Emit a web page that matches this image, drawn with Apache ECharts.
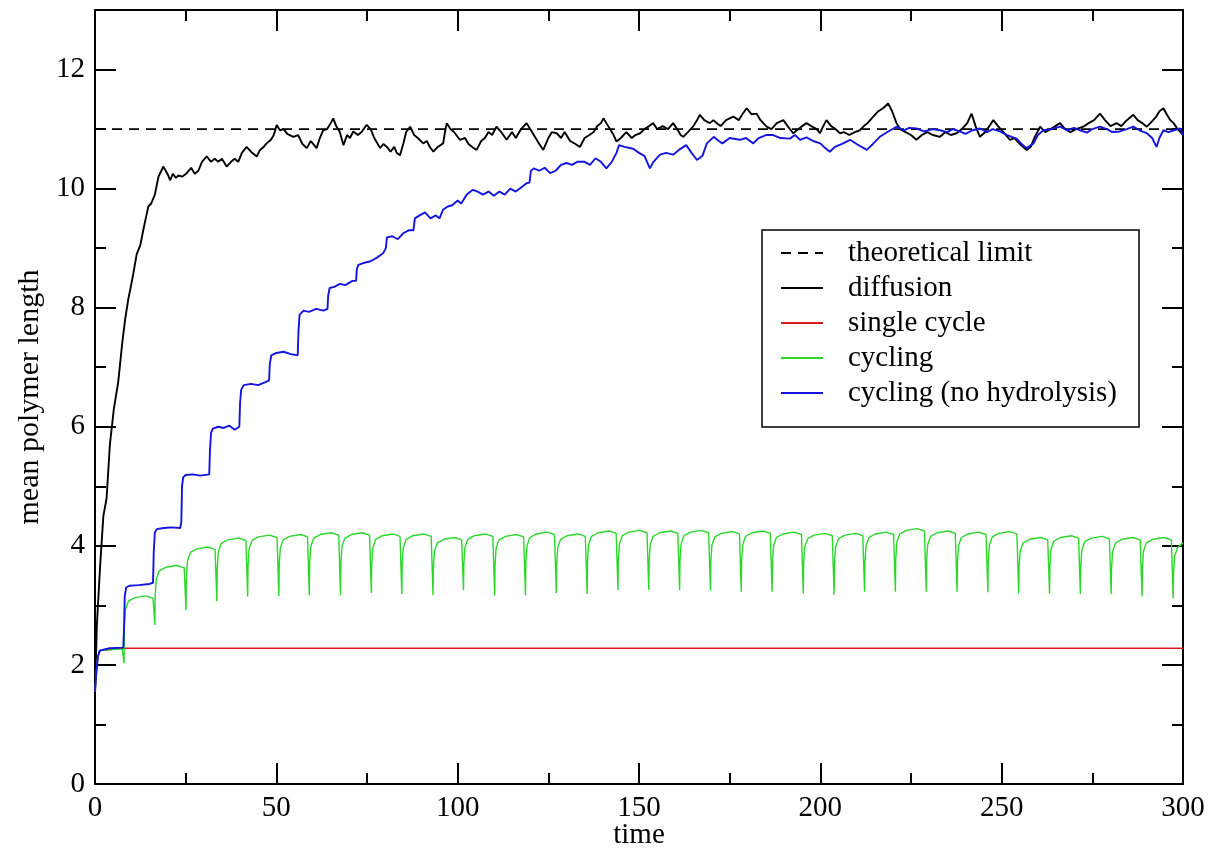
<!DOCTYPE html>
<html>
<head>
<meta charset="utf-8">
<script src="https://cdn.jsdelivr.net/npm/echarts@6/dist/echarts.min.js"></script>
<style>html,body{margin:0;padding:0;background:#fff;}#c{width:1210px;height:852px;}</style>
</head>
<body>
<div id="c"></div>
<script>
// ---- data (time, mean polymer length) ----
const seriesNames = ["theoretical limit", "diffusion", "single cycle", "cycling", "cycling (no hydrolysis)"];
const xTicks = [0, 50, 100, 150, 200, 250, 300];
const yTicks = [0, 2, 4, 6, 8, 10, 12];

const theoretical = [[0, 11.0], [300, 11.0]];

const diffusion = [
[0,1.55],[0.3,2.2],[0.5,2.65],[0.9,3.1],[1.4,3.65],[2.3,4.5],[3.2,4.8],[4.1,5.7],[5.2,6.3],[6.4,6.75],[7.5,7.4],[8.3,7.8],[9.2,8.15],[9.7,8.3],[10.5,8.55],[11.5,8.9],[12.5,9.05],[13.3,9.3],[14.0,9.5],[14.7,9.7],[15.5,9.75],[16.5,9.9],[17.5,10.2],[18.3,10.3],[18.8,10.37],[19.5,10.3],[20.2,10.22],[20.7,10.14],[21.5,10.25],[22.3,10.18],[23,10.22],[24,10.2],[25.3,10.26],[26.5,10.35],[27.5,10.25],[28.5,10.3],[29.5,10.45],[30.8,10.54],[32,10.45],[33,10.5],[34,10.45],[35,10.5],[36.3,10.37],[37.5,10.45],[38.5,10.5],[39.5,10.45],[40.5,10.6],[41.8,10.7],[43,10.62],[44.6,10.54],[45.5,10.65],[46.5,10.7],[47.3,10.76],[48.5,10.82],[49.3,10.9],[50.1,11.07],[51,10.98],[52,11.0],[53,10.92],[54.7,10.87],[56,10.9],[57.2,10.75],[58.4,10.68],[59.5,10.8],[61.1,10.68],[62,10.85],[62.9,10.98],[64,11.0],[65,11.1],[65.7,11.18],[66.5,11.05],[67.5,10.95],[68.5,10.73],[69.5,10.9],[70.3,10.85],[71.2,10.96],[72.5,10.9],[73.5,10.95],[74.9,11.07],[76,11.0],[77,10.85],[78.6,10.68],[79.5,10.75],[80.5,10.7],[81.5,10.62],[82.5,10.7],[83.2,10.6],[84.1,10.56],[85,10.75],[85.8,10.95],[86.9,11.04],[88,10.9],[89,10.85],[90.5,10.76],[91.5,10.8],[92.3,10.7],[93.3,10.62],[94.5,10.7],[96,10.76],[96.5,10.95],[97,11.1],[98,11.0],[99,10.95],[100.6,10.82],[102,10.85],[103,10.75],[104,10.7],[105.2,10.65],[106.5,10.8],[107.5,10.85],[108.5,10.95],[109.5,10.9],[110.7,11.04],[112,10.95],[113.5,10.82],[115,10.95],[116,10.85],[117.5,11.0],[119,11.1],[120.5,10.95],[121.5,10.85],[122.5,10.75],[123.6,10.65],[125,10.85],[126,10.95],[127.3,10.93],[128.5,10.85],[129.5,10.95],[131,10.8],[132.5,10.75],[133.7,10.7],[135,10.85],[136.3,10.9],[137.5,10.95],[138.5,11.05],[139.5,11.1],[140.2,11.18],[141,11.1],[142,11.0],[143,10.9],[143.8,10.79],[145,10.85],[146.5,10.95],[148,10.85],[149,10.9],[150.3,10.93],[151.5,11.0],[152.8,11.05],[153.9,11.1],[155,11.0],[156.5,11.05],[158,11.0],[159.4,11.1],[160.5,11.0],[161.5,10.9],[162.2,10.87],[163.5,10.95],[165,11.05],[166,11.15],[166.8,11.24],[168,11.15],[169.5,11.1],[170.5,11.15],[171.4,11.1],[172.5,11.05],[174,11.15],[176,11.21],[177.5,11.15],[178.5,11.25],[179.7,11.35],[181,11.25],[182.4,11.26],[183.5,11.15],[185.2,11.04],[186.5,11.0],[188,11.1],[189.8,11.15],[191,11.05],[192.5,10.93],[194,11.0],[195,11.05],[196.2,11.1],[197.5,11.05],[199,11.0],[199.9,10.93],[200.8,11.05],[201.7,11.15],[203,11.05],[204.2,11.0],[205.4,10.93],[206.5,10.95],[208,10.9],[209.5,10.95],[210.9,10.98],[212,11.05],[213,11.1],[214.6,11.21],[216,11.3],[217.3,11.35],[218.7,11.43],[219.8,11.3],[221,11.1],[222,11.0],[223.5,10.95],[225,10.9],[226.5,10.82],[228,10.9],[229.5,10.95],[231,10.9],[233,10.87],[234.5,10.95],[236,10.9],[237.6,10.93],[239,11.0],[240.5,11.1],[241.7,11.26],[242.8,11.05],[244,10.87],[245.5,10.95],[247.7,11.15],[249,11.05],[250.5,10.95],[252.3,10.82],[253.5,10.85],[255,10.75],[256.9,10.65],[258,10.7],[259,10.85],[260.6,11.04],[262,10.95],[263.5,11.0],[264.8,11.05],[266.1,11.1],[267.5,11.0],[269,10.95],[270.5,11.0],[272.5,11.04],[274,11.1],[275.5,11.15],[277.1,11.26],[278.5,11.15],[280,11.05],[281.7,11.1],[283,11.05],[284.5,11.15],[286.3,11.24],[287.5,11.15],[288.8,11.1],[290,11.04],[291,11.1],[292.5,11.2],[293.5,11.3],[294.6,11.35],[295.5,11.25],[296.5,11.15],[297.4,11.1],[298.5,11.0],[299.3,10.95],[300,10.9]
];

const singleCycle = [
[0,1.55],[0.4,1.9],[0.8,2.14],[1.3,2.24],[1.8,2.27],[8,2.28],[57.6,2.28],[58,2.31],[58.4,2.28],[121.2,2.28],[121.6,2.31],[122,2.28],[300,2.28]
];

const cycling = [
[0,1.55],[0.4,1.9],[0.8,2.14],[1.3,2.24],[1.8,2.27],
[7.5,2.27],[8.0,2.03],[8.1,2.65],[8.4,2.93],[9.2,3.07],[11.0,3.13],[14.0,3.16],
[16.0,3.12],[16.5,2.67],[16.6,3.16],[16.9,3.44],[17.7,3.58],[19.5,3.64],[22.5,3.67],
[24.6,3.63],[25.1,2.92],[25.2,3.47],[25.5,3.75],[26.3,3.89],[28.1,3.95],[31.1,3.98],
[33.1,3.94],[33.6,3.07],[33.7,3.62],[34.0,3.90],[34.8,4.04],[36.6,4.10],[39.6,4.13],
[41.6,4.09],[42.1,3.15],[42.2,3.67],[42.5,3.95],[43.3,4.09],[45.1,4.15],[48.1,4.18],
[50.2,4.14],[50.7,3.16],[50.8,3.68],[51.1,3.96],[51.9,4.10],[53.7,4.16],[56.7,4.19],
[58.6,4.15],[59.1,3.17],[59.2,3.71],[59.5,3.99],[60.3,4.13],[62.1,4.19],[65.1,4.22],
[67.2,4.18],[67.7,3.17],[67.8,3.71],[68.1,3.99],[68.9,4.13],[70.7,4.19],[73.7,4.22],
[75.7,4.18],[76.2,3.21],[76.3,3.69],[76.6,3.97],[77.4,4.11],[79.2,4.17],[82.2,4.20],
[84.1,4.16],[84.6,3.19],[84.7,3.69],[85.0,3.97],[85.8,4.11],[87.6,4.17],[90.6,4.20],
[92.7,4.16],[93.2,3.17],[93.3,3.63],[93.6,3.91],[94.4,4.05],[96.2,4.11],[99.2,4.14],
[101.1,4.10],[101.6,3.26],[101.7,3.69],[102.0,3.97],[102.8,4.11],[104.6,4.17],[107.6,4.20],
[109.7,4.16],[110.2,3.17],[110.3,3.68],[110.6,3.96],[111.4,4.10],[113.2,4.16],[116.2,4.19],
[118.2,4.15],[118.7,3.17],[118.8,3.72],[119.1,4.00],[119.9,4.14],[121.7,4.20],[124.7,4.23],
[126.7,4.19],[127.2,3.21],[127.3,3.69],[127.6,3.97],[128.4,4.11],[130.2,4.17],[133.2,4.20],
[135.2,4.16],[135.7,3.19],[135.8,3.74],[136.1,4.02],[136.9,4.16],[138.7,4.22],[141.7,4.25],
[143.7,4.21],[144.2,3.26],[144.3,3.75],[144.6,4.03],[145.4,4.17],[147.2,4.23],[150.2,4.26],
[152.2,4.22],[152.7,3.26],[152.8,3.74],[153.1,4.02],[153.9,4.16],[155.7,4.22],[158.7,4.25],
[160.7,4.21],[161.2,3.26],[161.3,3.75],[161.6,4.03],[162.4,4.17],[164.2,4.23],[167.2,4.26],
[169.2,4.22],[169.7,3.25],[169.8,3.73],[170.1,4.01],[170.9,4.15],[172.7,4.21],[175.7,4.24],
[177.7,4.20],[178.2,3.23],[178.3,3.74],[178.6,4.02],[179.4,4.16],[181.2,4.22],[184.2,4.25],
[186.2,4.21],[186.7,3.23],[186.8,3.72],[187.1,4.00],[187.9,4.14],[189.7,4.20],[192.7,4.23],
[194.8,4.19],[195.3,3.20],[195.4,3.70],[195.7,3.98],[196.5,4.12],[198.3,4.18],[201.3,4.21],
[203.3,4.17],[203.8,3.18],[203.9,3.70],[204.2,3.98],[205.0,4.12],[206.8,4.18],[209.8,4.21],
[211.7,4.17],[212.2,3.23],[212.3,3.72],[212.6,4.00],[213.4,4.14],[215.2,4.20],[218.2,4.23],
[220.2,4.19],[220.7,3.23],[220.8,3.78],[221.1,4.06],[221.9,4.20],[223.7,4.26],[226.7,4.29],
[228.7,4.25],[229.2,3.23],[229.3,3.74],[229.6,4.02],[230.4,4.16],[232.2,4.22],[235.2,4.25],
[237.2,4.21],[237.7,3.23],[237.8,3.72],[238.1,4.00],[238.9,4.14],[240.7,4.20],[243.7,4.23],
[245.7,4.19],[246.2,3.22],[246.3,3.73],[246.6,4.01],[247.4,4.15],[249.2,4.21],[252.2,4.24],
[254.2,4.20],[254.7,3.20],[254.8,3.63],[255.1,3.91],[255.9,4.05],[257.7,4.11],[260.7,4.14],
[262.7,4.10],[263.2,3.20],[263.3,3.66],[263.6,3.94],[264.4,4.08],[266.2,4.14],[269.2,4.17],
[271.2,4.13],[271.7,3.19],[271.8,3.65],[272.1,3.93],[272.9,4.07],[274.7,4.13],[277.7,4.16],
[279.7,4.12],[280.2,3.19],[280.3,3.63],[280.6,3.91],[281.4,4.05],[283.2,4.11],[286.2,4.14],
[288.2,4.10],[288.7,3.15],[288.8,3.63],[289.1,3.91],[289.9,4.05],[291.7,4.11],[294.7,4.14],
[296.8,4.10],[297.3,3.12],[297.4,3.55],[297.7,3.83],[298.5,3.97],[300,4.05]
];

const cyclingNoHydrolysis = [
[0,1.55],[0.4,1.9],[0.8,2.14],[1.3,2.24],[1.8,2.27],[4,2.28],[7.8,2.29],[8.0,2.6],[8.2,3.15],[8.6,3.3],[9.5,3.33],[12,3.34],[15,3.36],[16.0,3.38],[16.2,3.9],[16.5,4.22],[17,4.28],[19,4.3],[21,4.31],[23.5,4.3],[23.8,4.4],[24.0,5.0],[24.3,5.15],[25,5.19],[27,5.2],[29,5.18],[31.5,5.2],[31.7,5.6],[32.0,5.9],[32.5,5.97],[34,6.0],[35.5,5.98],[37,6.02],[38.5,5.95],[39.8,6.0],[40.0,6.4],[40.3,6.62],[41,6.7],[43,6.72],[45,6.7],[47,6.75],[48.0,6.78],[48.2,7.05],[48.6,7.2],[50,7.24],[52,7.26],[54,7.22],[55.9,7.2],[56.1,7.6],[56.4,7.88],[57.5,7.95],[59,7.93],[61,7.98],[63,7.95],[64.1,7.98],[64.3,8.2],[64.7,8.33],[66,8.35],[67.5,8.4],[69,8.38],[71,8.45],[72.0,8.45],[72.2,8.65],[72.6,8.72],[74,8.75],[76,8.78],[78,8.85],[79.5,8.92],[80.2,9.0],[80.5,9.18],[82,9.2],[83.5,9.15],[85,9.25],[86.5,9.3],[87.8,9.3],[88.2,9.5],[89.5,9.55],[91,9.6],[92.5,9.5],[94,9.55],[95,9.5],[96,9.65],[97.3,9.7],[98.5,9.72],[100,9.8],[101,9.75],[102.5,9.9],[104.2,9.98],[105.5,9.95],[107,9.9],[108.5,9.95],[110,9.88],[111.5,9.95],[113,9.9],[114.5,10.0],[116,9.95],[117.5,10.02],[119,10.09],[119.8,10.1],[120.2,10.3],[121,10.34],[122.5,10.3],[124,10.35],[125.5,10.26],[127,10.3],[128.5,10.4],[130,10.43],[131.5,10.4],[133,10.45],[135,10.45],[136.5,10.4],[138,10.51],[139.5,10.45],[141,10.34],[142.5,10.45],[143.8,10.6],[144.5,10.73],[146,10.7],[148.4,10.67],[150,10.6],[151.5,10.55],[153,10.34],[154,10.45],[155.8,10.57],[157.5,10.6],[159.4,10.57],[161,10.65],[163,10.73],[164.5,10.6],[166,10.48],[167.5,10.55],[168.7,10.76],[170.6,10.87],[172,10.8],[173,10.76],[175,10.85],[177.8,10.82],[179.5,10.85],[181.5,10.76],[183,10.85],[185,10.9],[187,10.9],[189,10.85],[191.6,10.84],[193,10.9],[194.4,10.82],[196.2,10.86],[198,10.8],[200,10.76],[201,10.7],[202.6,10.62],[204,10.7],[206,10.75],[208.2,10.82],[210,10.75],[212.8,10.65],[214.5,10.75],[216.4,10.87],[218.5,10.95],[221,11.04],[223,10.98],[224.5,11.02],[226.5,11.01],[228.5,10.96],[231,11.0],[233,10.98],[235,10.95],[236.5,11.0],[238.5,10.96],[240,10.92],[242,10.98],[244,11.01],[246,10.95],[247.5,11.0],[249.5,10.96],[251.5,10.9],[254.1,10.84],[255.5,10.75],[256.9,10.68],[258.8,10.76],[260,10.9],[261.5,10.98],[263.5,11.0],[266.1,11.04],[268,10.98],[270,11.02],[271.6,10.98],[273.5,10.94],[275,11.0],[277.1,11.04],[279,11.0],[280.5,10.95],[282.6,10.96],[284.5,11.0],[286.3,11.04],[288,10.98],[290,10.93],[291.5,10.85],[292.7,10.7],[293.5,10.85],[294.6,10.98],[296,10.95],[297.5,10.98],[299.2,11.01],[300,10.9]
];

// ---- chart ----
const FONT = "'Liberation Serif', 'DejaVu Serif', serif";
const FS = 29;
const chart = echarts.init(document.getElementById('c'), null, {renderer: 'canvas'});

function xAx(pos, interval, tickLen, major) {
  return {
    type: 'value', position: pos, min: 0, max: 300, interval: interval,
    axisLine: {show: major, onZero: false, lineStyle: {color: '#000', width: 2}},
    axisTick: {show: true, inside: true, length: tickLen, lineStyle: {color: '#000', width: 2}},
    axisLabel: {show: major && pos === 'bottom', color: '#000', fontFamily: FONT, fontSize: FS, margin: 10},
    splitLine: {show: false}
  };
}
function yAx(pos, interval, tickLen, major) {
  return {
    type: 'value', position: pos, min: 0, max: 13, interval: interval,
    axisLine: {show: major, onZero: false, lineStyle: {color: '#000', width: 2}},
    axisTick: {show: true, inside: true, length: tickLen, lineStyle: {color: '#000', width: 2}},
    axisLabel: {show: major && pos === 'left', color: '#000', fontFamily: FONT, fontSize: FS, margin: 10,
      showMaxLabel: false,
      formatter: function (v) { return yTicks.indexOf(v) >= 0 ? String(v) : ''; }},
    splitLine: {show: false}
  };
}

const xAxes = [xAx('bottom', 50, 21, true), xAx('bottom', 25, 11, false), xAx('top', 50, 21, true), xAx('top', 25, 11, false)];
xAxes[0].name = 'time';
xAxes[0].nameLocation = 'middle';
xAxes[0].nameGap = 37;
xAxes[0].nameMoveOverlap = false;
xAxes[0].nameTextStyle = {color: '#000', fontFamily: FONT, fontSize: FS};
xAxes[0].axisLabel.formatter = function (v) { return xTicks.indexOf(v) >= 0 ? String(v) : ''; };

const yAxes = [yAx('left', 2, 21, true), yAx('left', 1, 11, false), yAx('right', 2, 21, true), yAx('right', 1, 11, false)];
yAxes[0].name = 'mean polymer length';
yAxes[0].nameLocation = 'middle';
yAxes[0].nameGap = 50;
yAxes[0].nameMoveOverlap = false;
yAxes[0].nameTextStyle = {color: '#000', fontFamily: FONT, fontSize: 30};

function line(name, data, color, width, type) {
  return {
    name: name, type: 'line', data: data, xAxisIndex: 0, yAxisIndex: 0,
    symbol: 'none', showSymbol: false, smooth: false, clip: true,
    lineStyle: {color: color, width: width, type: type || 'solid'},
    itemStyle: {color: color}
  };
}

chart.setOption({
  animation: false,
  backgroundColor: '#fff',
  grid: {left: 95, right: 27, top: 10, bottom: 68, containLabel: false, outerBoundsMode: 'none'},
  xAxis: xAxes,
  yAxis: yAxes,
  legend: {
    orient: 'vertical', left: 762, top: 230,
    data: seriesNames,
    backgroundColor: '#fff',
    borderColor: '#000', borderWidth: 1.5, borderRadius: 0,
    padding: [8, 22, 19, 18],
    itemWidth: 42, itemHeight: 14, itemGap: 5,
    itemStyle: {opacity: 0, color: 'rgba(0,0,0,0)', borderWidth: 0},
    textStyle: {color: '#000', fontFamily: FONT, fontSize: FS, lineHeight: 30, padding: [0, 0, 0, 20]},
    selectedMode: false
  },
  series: [
    line(seriesNames[0], theoretical, '#000', 1.8, [10, 7]),
    line(seriesNames[1], diffusion, '#000', 1.9),
    line(seriesNames[2], singleCycle, '#e01818', 1.4),
    line(seriesNames[3], cycling, '#2ad82a', 1.4),
    line(seriesNames[4], cyclingNoHydrolysis, '#1414e0', 1.9)
  ]
});
</script>
</body>
</html>
